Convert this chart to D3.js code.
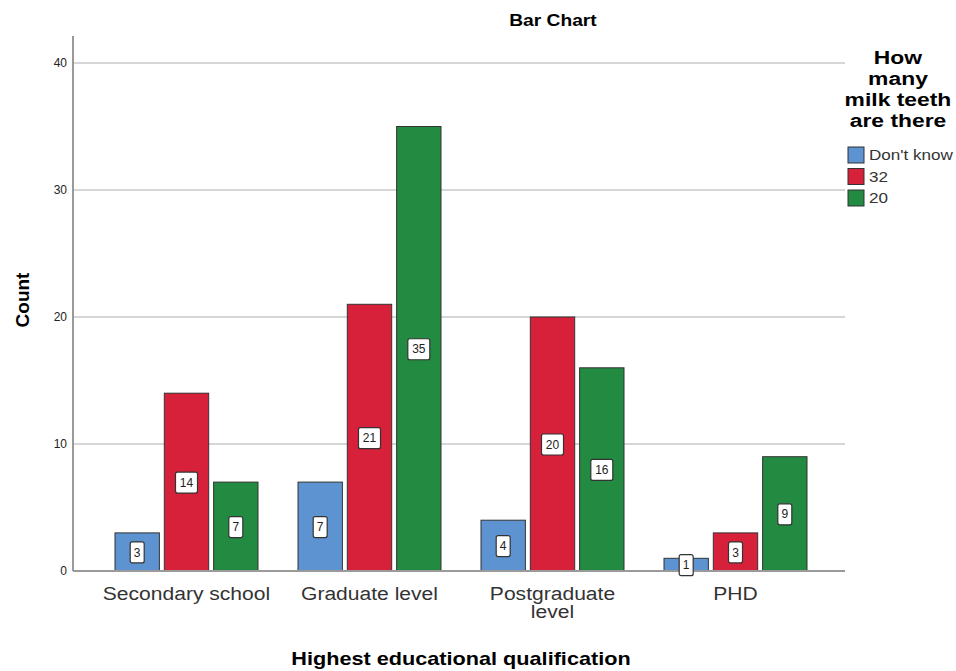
<!DOCTYPE html>
<html>
<head>
<meta charset="utf-8">
<script src="https://cdn.jsdelivr.net/npm/d3@7"></script>
<style>
  body { margin: 0; background: #fff; }
  text { font-family: "Liberation Sans", Arial, sans-serif; }
</style>
</head>
<body>
<div id="chart"></div>
<script>
// data
var categories = ["Secondary school", "Graduate level", "Postgraduate level", "PHD"];
var seriesNames = ["Don't know", "32", "20"];
var dontKnow = [3, 7, 4, 1];
var thirtyTwo = [14, 21, 20, 3];
var twenty = [7, 35, 16, 9];
var yTicks = [0, 10, 20, 30, 40];
var colors = ["#5d93d1", "#d7203a", "#238a41"];

var W = 956, H = 671;
var svg = d3.select("#chart").append("svg")
    .attr("width", W).attr("height", H);

// the reference text looks a bit wide, so stretch glyphs horizontally
function stretch(sel, k) {
  sel.each(function(){
    var w = this.getComputedTextLength();
    d3.select(this).attr("textLength", w * k).attr("lengthAdjust", "spacingAndGlyphs");
  });
}

var x = d3.scaleBand().domain(categories).range([95, 827]);
var x1 = d3.scaleBand().domain(seriesNames).range([20, 163]).paddingInner(0.1);
var y = d3.scaleLinear().domain([0, 40]).range([571, 63]);

// gridlines
svg.append("g").selectAll("line")
    .data(yTicks.filter(function(d){ return d > 0; }))
    .enter().append("line")
    .attr("x1", 73).attr("x2", 845)
    .attr("y1", function(d){ return y(d); })
    .attr("y2", function(d){ return y(d); })
    .style("stroke", "#d6d6d6").style("stroke-width", 2);

// y axis
var yAxis = svg.append("g")
    .attr("transform", "translate(73,0)")
    .call(d3.axisLeft(y).tickValues(yTicks).tickSize(0).tickPadding(6));
yAxis.select(".domain").remove();
yAxis.selectAll("text").style("font-size", "12px").style("fill", "#222");
svg.append("line").attr("x1", 73).attr("x2", 73).attr("y1", 36).attr("y2", 571)
    .style("stroke", "#9a9a9a").style("stroke-width", 2);

// bars
var rows = categories.map(function(c, i){
  return [dontKnow[i], thirtyTwo[i], twenty[i]].map(function(v, j){
    return {cat: c, s: seriesNames[j], v: v, j: j};
  });
});
var flat = [].concat.apply([], rows);

svg.append("g").selectAll("rect")
    .data(flat).enter().append("rect")
    .attr("x", function(d){ return x(d.cat) + x1(d.s); })
    .attr("y", function(d){ return y(d.v); })
    .attr("width", x1.bandwidth())
    .attr("height", function(d){ return y(0) - y(d.v); })
    .style("fill", function(d){ return colors[d.j]; })
    .style("stroke", "#333").style("stroke-width", 1);

// x baseline
svg.append("line").attr("x1", 73).attr("x2", 845).attr("y1", 571).attr("y2", 571)
    .style("stroke", "#9a9a9a").style("stroke-width", 2);

// value labels
var lab = svg.append("g").selectAll("g")
    .data(flat).enter().append("g")
    .attr("transform", function(d){
      return "translate(" + (x(d.cat) + x1(d.s) + x1.bandwidth()/2) + "," + y(d.v/2) + ")";
    });
lab.append("rect")
    .attr("x", function(d){ return String(d.v).length > 1 ? -11 : -7; })
    .attr("width", function(d){ return String(d.v).length > 1 ? 22 : 14; })
    .attr("y", -10).attr("height", 21).attr("rx", 2)
    .style("fill", "#fff").style("stroke", "#333").style("stroke-width", 1.2);
lab.append("text")
    .attr("text-anchor", "middle").attr("dy", "0.38em")
    .style("font-size", "12px").style("fill", "#222")
    .text(function(d){ return d.v; });

// x category labels
var xl = svg.append("g").selectAll("text")
    .data(categories).enter().append("text")
    .attr("x", function(d){ return x(d) + x.bandwidth()/2; })
    .attr("y", 600)
    .attr("text-anchor", "middle")
    .style("font-size", "18px").style("fill", "#333");
xl.each(function(d){
  var t = d3.select(this);
  var parts = d === "Postgraduate level" ? ["Postgraduate", "level"] : [d];
  parts.forEach(function(p, k){
    t.append("tspan").attr("x", x(d) + x.bandwidth()/2).attr("dy", k === 0 ? 0 : 18).text(p);
  });
});
stretch(xl.selectAll("tspan"), 1.17);

// titles
var t1 = svg.append("text").attr("x", 553).attr("y", 26).attr("text-anchor", "middle")
    .style("font-size", "16px").style("font-weight", "bold").text("Bar Chart");
stretch(t1, 1.2);
var t2 = svg.append("text").attr("x", 461).attr("y", 665).attr("text-anchor", "middle")
    .style("font-size", "19px").style("font-weight", "bold").text("Highest educational qualification");
stretch(t2, 1.14);
svg.append("text").attr("transform", "translate(29,300) rotate(-90)").attr("text-anchor", "middle")
    .style("font-size", "19px").style("font-weight", "bold").text("Count");

// legend
var lt = svg.append("text").attr("text-anchor", "middle")
    .style("font-size", "18px").style("font-weight", "bold");
["How", "many", "milk teeth", "are there"].forEach(function(p, k){
  lt.append("tspan").attr("x", 898).attr("y", 64 + k * 21).text(p);
});
stretch(lt.selectAll("tspan"), 1.27);
var lg = svg.append("g").selectAll("g")
    .data(seriesNames).enter().append("g")
    .attr("transform", function(d, i){ return "translate(848," + (147 + i * 21.5) + ")"; });
lg.append("rect").attr("width", 16).attr("height", 16)
    .style("fill", function(d, i){ return colors[i]; })
    .style("stroke", "#333").style("stroke-width", 1);
var lgt = lg.append("text").attr("x", 21).attr("y", 13)
    .style("font-size", "14px").style("fill", "#333")
    .text(function(d){ return d; });
stretch(lgt, 1.22);
</script>
</body>
</html>
